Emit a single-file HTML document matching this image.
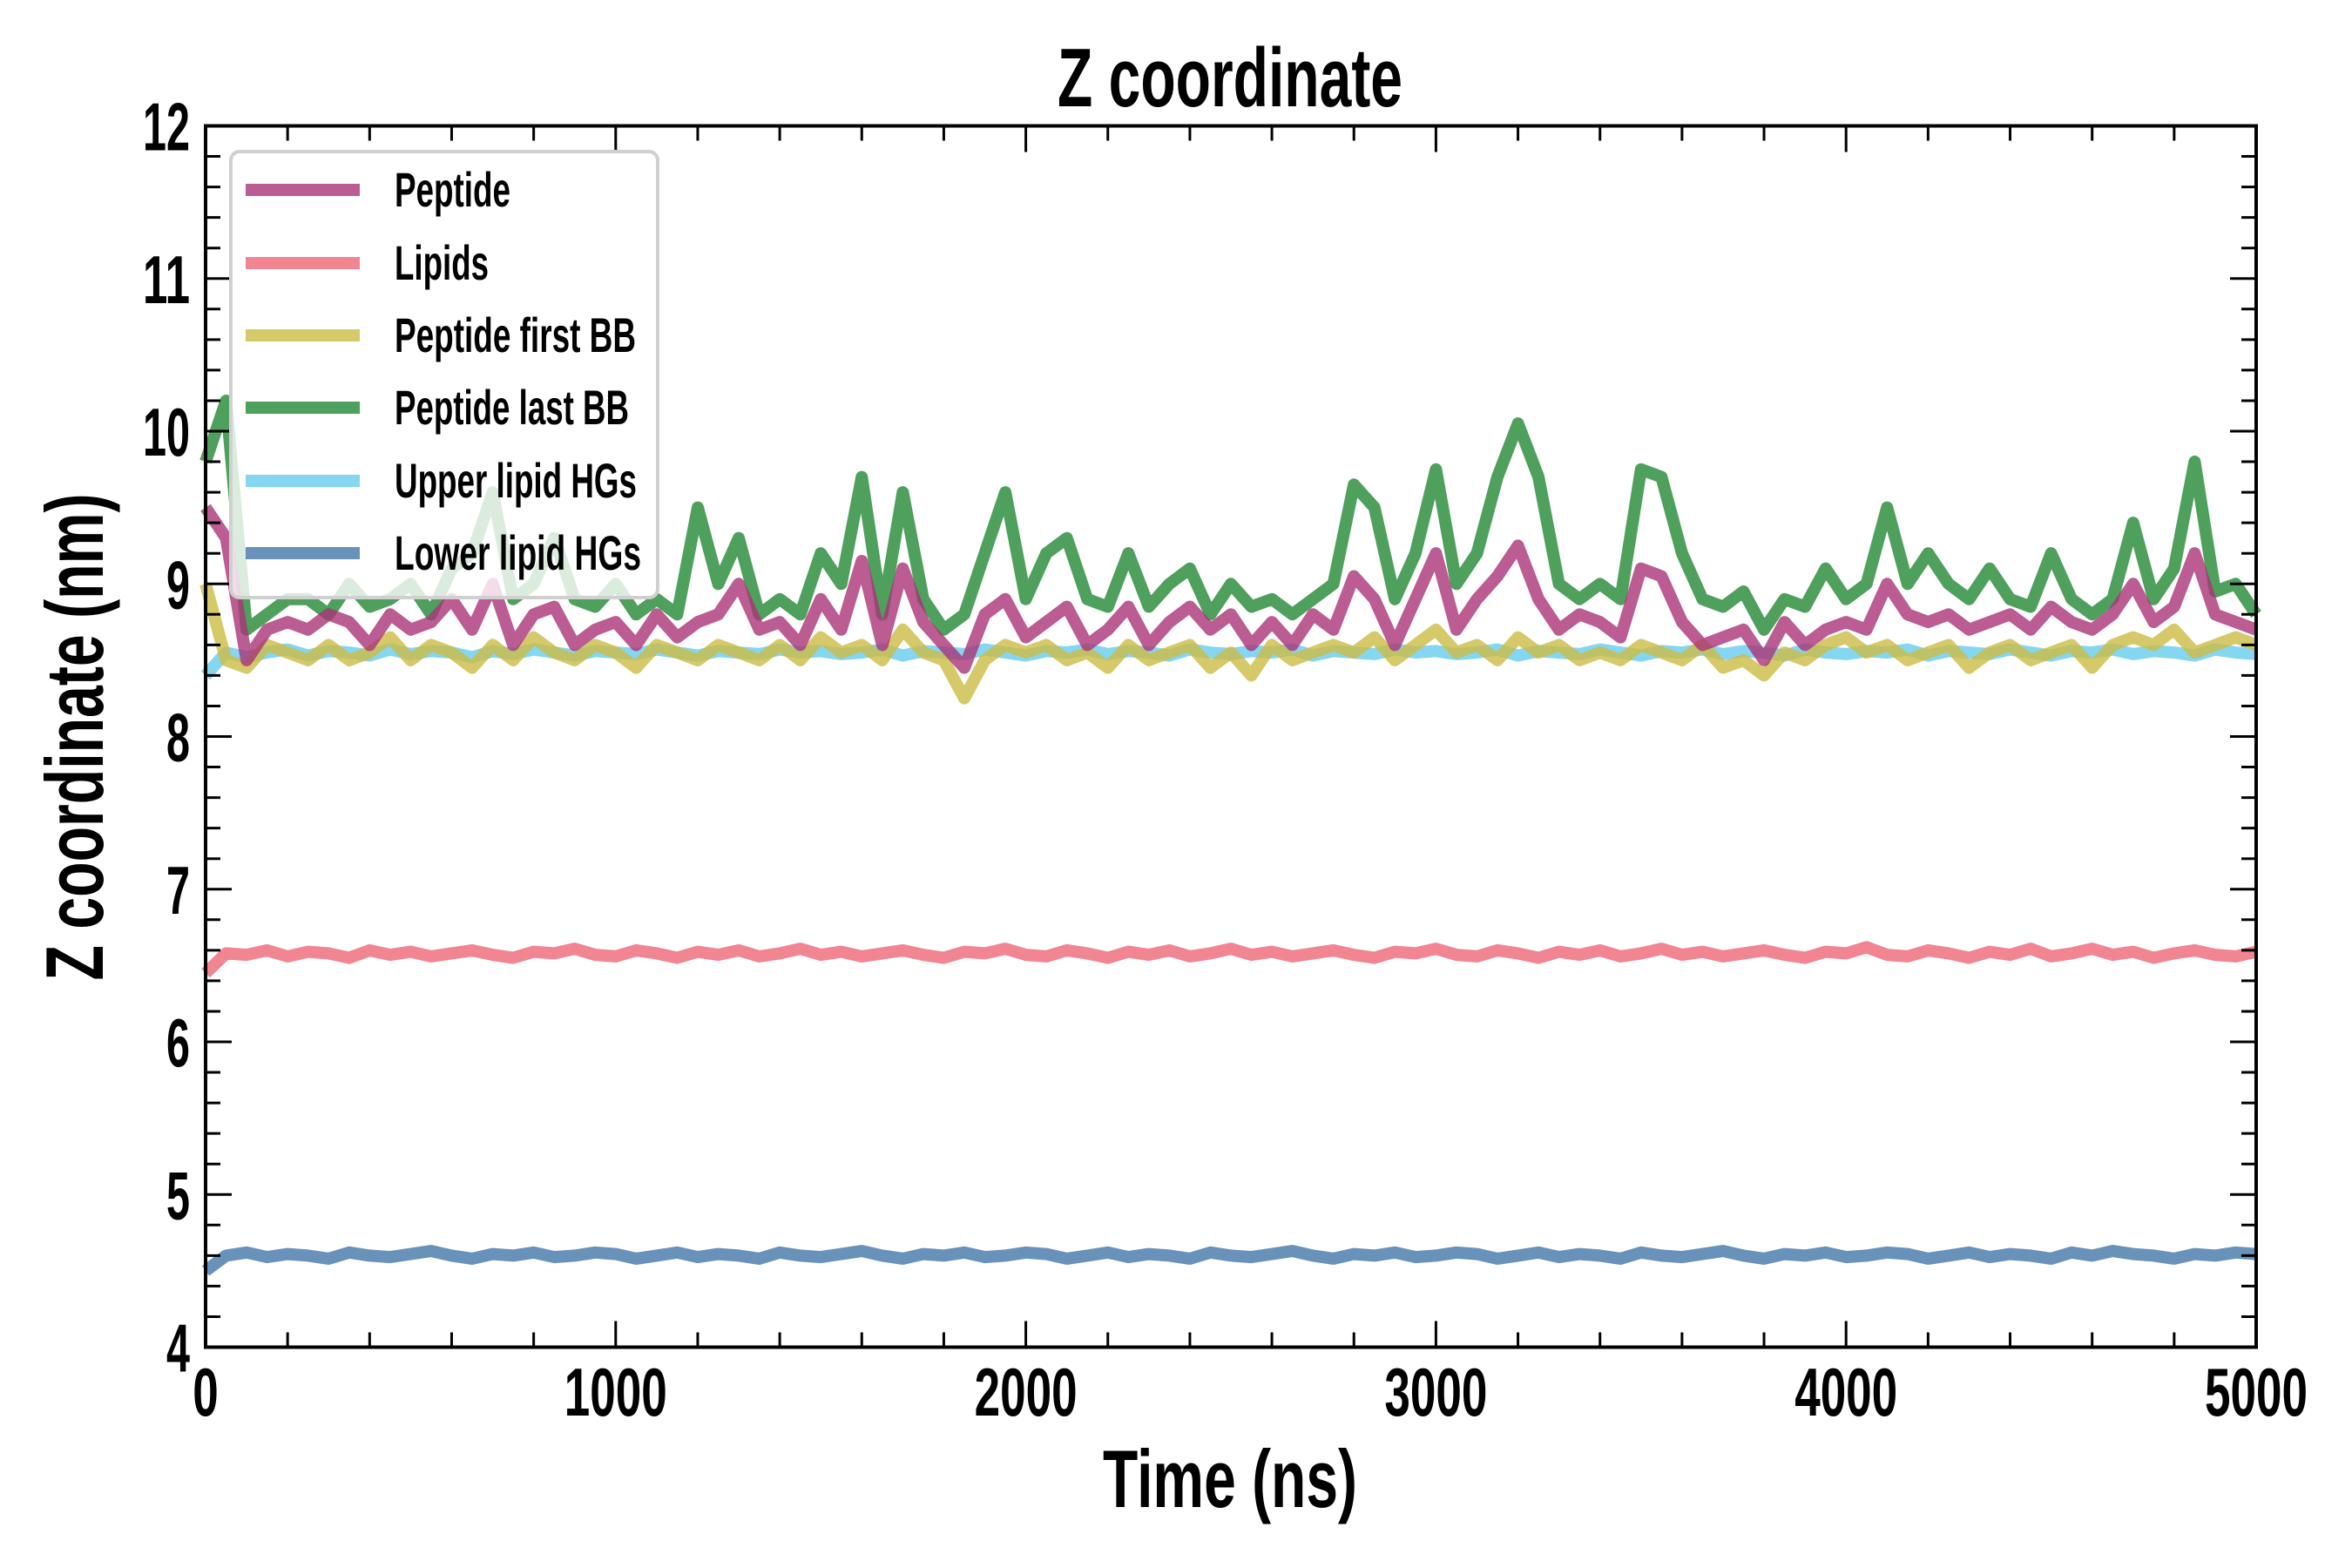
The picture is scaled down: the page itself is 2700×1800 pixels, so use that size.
<!DOCTYPE html>
<html><head><meta charset="utf-8"><style>
html,body{margin:0;padding:0;background:#fff;}
svg{display:block;}
text{font-family:"Liberation Sans",sans-serif;font-weight:bold;fill:#000;}
</style></head><body>
<svg id="chart" width="2700" height="1800" viewBox="0 0 2700 1800" xmlns="http://www.w3.org/2000/svg">
<rect x="0" y="0" width="2700" height="1800" fill="#fff"/>
<text x="1412" y="122" font-size="96" text-anchor="middle" textLength="396" lengthAdjust="spacingAndGlyphs">Z coordinate</text>
<text x="1412" y="1730" font-size="94" text-anchor="middle" textLength="292" lengthAdjust="spacingAndGlyphs">Time (ns)</text>
<text transform="translate(118,846) rotate(-90)" x="0" y="0" font-size="94" text-anchor="middle" textLength="559" lengthAdjust="spacingAndGlyphs">Z coordinate (nm)</text>
<g id="series"></g>
<g id="ticks"></g>
<rect x="236" y="144.5" width="2354" height="1402" fill="none" stroke="#000" stroke-width="4"/>
<g id="legend"></g>
</svg>
<script>
const seriesNames = ["Peptide","Lipids","Peptide first BB","Peptide last BB","Upper lipid HGs","Lower lipid HGs"];
const seriesColors = ["#AA3377","#EE6677","#CCBB44","#228833","#66CCEE","#4477AA"];
const xTicks = [0,1000,2000,3000,4000,5000];
const yTicks = [4,5,6,7,8,9,10,11,12];
const peptide = [9.5,9.3,8.5,8.7,8.75,8.7,8.8,8.75,8.6,8.8,8.7,8.75,8.9,8.7,9.0,8.6,8.8,8.85,8.6,8.7,8.75,8.6,8.8,8.65,8.75,8.8,9.0,8.7,8.75,8.6,8.9,8.7,9.15,8.6,9.1,8.75,8.6,8.45,8.8,8.9,8.65,8.75,8.85,8.6,8.7,8.85,8.6,8.75,8.85,8.7,8.8,8.6,8.75,8.6,8.8,8.7,9.05,8.9,8.6,8.9,9.2,8.7,8.9,9.05,9.25,8.9,8.7,8.8,8.75,8.65,9.1,9.05,8.75,8.6,8.65,8.7,8.5,8.75,8.6,8.7,8.75,8.7,9.0,8.8,8.75,8.8,8.7,8.75,8.8,8.7,8.85,8.75,8.7,8.8,9.0,8.75,8.85,9.2,8.8,8.75,8.7];
const lastBB = [9.8,10.2,8.7,8.8,8.9,8.9,8.8,9.0,8.85,8.9,9.0,8.8,9.1,9.2,9.6,8.9,9.0,9.3,8.9,8.85,9.0,8.8,8.9,8.8,9.5,9.0,9.3,8.8,8.9,8.8,9.2,9.0,9.7,8.8,9.6,8.9,8.7,8.8,9.2,9.6,8.9,9.2,9.3,8.9,8.85,9.2,8.85,9.0,9.1,8.8,9.0,8.85,8.9,8.8,8.9,9.0,9.65,9.5,8.9,9.2,9.75,9.0,9.2,9.7,10.05,9.7,9.0,8.9,9.0,8.9,9.75,9.7,9.2,8.9,8.85,8.95,8.7,8.9,8.85,9.1,8.9,9.0,9.5,9.0,9.2,9.0,8.9,9.1,8.9,8.85,9.2,8.9,8.8,8.9,9.4,8.9,9.1,9.8,8.95,9.0,8.8];
const firstBB = [9.0,8.5,8.45,8.6,8.55,8.5,8.6,8.5,8.55,8.65,8.5,8.6,8.55,8.45,8.6,8.5,8.65,8.55,8.5,8.6,8.55,8.45,8.6,8.55,8.5,8.6,8.55,8.5,8.6,8.5,8.65,8.55,8.6,8.5,8.7,8.55,8.5,8.25,8.5,8.6,8.55,8.6,8.5,8.55,8.45,8.6,8.5,8.55,8.6,8.45,8.55,8.4,8.6,8.5,8.55,8.6,8.55,8.65,8.5,8.6,8.7,8.55,8.6,8.5,8.65,8.55,8.6,8.5,8.55,8.5,8.6,8.55,8.5,8.6,8.45,8.5,8.4,8.55,8.5,8.6,8.65,8.55,8.6,8.5,8.55,8.6,8.45,8.55,8.6,8.5,8.55,8.6,8.45,8.6,8.65,8.6,8.7,8.55,8.6,8.65,8.6];
const upperHG = [8.4,8.55,8.52,8.55,8.57,8.53,8.56,8.55,8.53,8.57,8.54,8.56,8.55,8.52,8.56,8.54,8.57,8.55,8.53,8.56,8.55,8.54,8.57,8.55,8.53,8.56,8.55,8.54,8.57,8.55,8.56,8.54,8.55,8.57,8.53,8.56,8.55,8.54,8.57,8.55,8.53,8.56,8.55,8.57,8.54,8.56,8.55,8.53,8.57,8.55,8.54,8.56,8.55,8.57,8.53,8.56,8.55,8.54,8.57,8.55,8.56,8.54,8.55,8.57,8.53,8.56,8.55,8.54,8.57,8.55,8.53,8.56,8.55,8.57,8.54,8.56,8.55,8.53,8.57,8.55,8.54,8.56,8.55,8.57,8.53,8.56,8.55,8.54,8.57,8.55,8.53,8.56,8.55,8.57,8.54,8.56,8.55,8.53,8.57,8.55,8.54];
const lipids = [6.45,6.58,6.57,6.6,6.56,6.59,6.58,6.55,6.6,6.57,6.59,6.56,6.58,6.6,6.57,6.55,6.59,6.58,6.61,6.57,6.56,6.6,6.58,6.55,6.59,6.57,6.6,6.56,6.58,6.61,6.57,6.59,6.56,6.58,6.6,6.57,6.55,6.59,6.58,6.61,6.57,6.56,6.6,6.58,6.55,6.59,6.57,6.6,6.56,6.58,6.61,6.57,6.59,6.56,6.58,6.6,6.57,6.55,6.59,6.58,6.61,6.57,6.56,6.6,6.58,6.55,6.59,6.57,6.6,6.56,6.58,6.61,6.57,6.59,6.56,6.58,6.6,6.57,6.55,6.59,6.58,6.62,6.57,6.56,6.6,6.58,6.55,6.59,6.57,6.61,6.56,6.58,6.61,6.57,6.59,6.55,6.58,6.6,6.57,6.56,6.59];
const lowerHG = [4.5,4.6,4.62,4.59,4.61,4.6,4.58,4.62,4.6,4.59,4.61,4.63,4.6,4.58,4.61,4.6,4.62,4.59,4.6,4.62,4.61,4.58,4.6,4.62,4.59,4.61,4.6,4.58,4.62,4.6,4.59,4.61,4.63,4.6,4.58,4.61,4.6,4.62,4.59,4.6,4.62,4.61,4.58,4.6,4.62,4.59,4.61,4.6,4.58,4.62,4.6,4.59,4.61,4.63,4.6,4.58,4.61,4.6,4.62,4.59,4.6,4.62,4.61,4.58,4.6,4.62,4.59,4.61,4.6,4.58,4.62,4.6,4.59,4.61,4.63,4.6,4.58,4.61,4.6,4.62,4.59,4.6,4.62,4.61,4.58,4.6,4.62,4.59,4.61,4.6,4.58,4.62,4.6,4.63,4.61,4.6,4.58,4.61,4.6,4.62,4.61];

const X0=236, X1=2590, Y0=1546.5, Y1=144.5, TMAX=5000, YMIN=4, YMAX=12;
function xs(t){return X0+(t/TMAX)*(X1-X0);}
function ys(v){return Y0-(v-YMIN)/(YMAX-YMIN)*(Y0-Y1);}
const NS="http://www.w3.org/2000/svg";
const sg=document.getElementById('series');
const allData=[peptide,lipids,firstBB,lastBB,upperHG,lowerHG];
const keys=["peptide","lipids","peptide-first-bb","peptide-last-bb","upper-lipid-hgs","lower-lipid-hgs"];
const order=[5,1,4,2,3,0];
order.forEach(function(k){
  const d=allData[k];
  const n=d.length;
  let p="";
  for(let i=0;i<n;i++){p+=(i?"L":"M")+xs(i*TMAX/(n-1)).toFixed(1)+","+ys(d[i]).toFixed(1);}
  const path=document.createElementNS(NS,'path');
  path.setAttribute('d',p);
  path.setAttribute('fill','none');
  path.setAttribute('stroke',seriesColors[k]);
  path.setAttribute('stroke-opacity','0.8');
  path.setAttribute('stroke-width','14');
  path.setAttribute('stroke-linejoin','round');
  
  
  sg.appendChild(path);
});
const tg=document.getElementById('ticks');
function line(x1,y1,x2,y2,w,name){
  const l=document.createElementNS(NS,'line');
  l.setAttribute('x1',x1);l.setAttribute('y1',y1);l.setAttribute('x2',x2);l.setAttribute('y2',y2);
  l.setAttribute('stroke','#000');l.setAttribute('stroke-width',w);
  
  
  tg.appendChild(l);
}
function label(x,y,txt,anchor,len,name){
  const t=document.createElementNS(NS,'text');
  t.setAttribute('x',x);t.setAttribute('y',y);t.setAttribute('font-size','78');
  t.setAttribute('text-anchor',anchor);t.setAttribute('textLength',len);t.setAttribute('lengthAdjust','spacingAndGlyphs');
  t.textContent=txt;
  
  
  tg.appendChild(t);
}
for(let t=0;t<=TMAX;t+=200){
  const major=(t%1000===0), L=major?30:17, x=xs(t);
  line(x,Y0,x,Y0-L,3,'x-tick');
  line(x,Y1,x,Y1+L,3,'x-tick-top');
}
for(let i=0;i<=40;i++){
  const v=YMIN+i*0.2, major=(i%5===0), L=major?30:17, y=ys(v);
  line(X0,y,X0+L,y,3,'y-tick');
  line(X1,y,X1-L,y,3,'y-tick-right');
}
xTicks.forEach(function(t){
  const s=String(t);
  label(xs(t),1625,s,'middle',s.length*29.5,'x-tick-label');
});
yTicks.forEach(function(v){
  const s=String(v);
  label(218,ys(v)+28,s,'end',s.length*27,'y-tick-label');
});
const lg=document.getElementById('legend');
const fr=document.createElementNS(NS,'rect');
fr.setAttribute('x',265);fr.setAttribute('y',174);fr.setAttribute('width',490);fr.setAttribute('height',512);
fr.setAttribute('rx',10);fr.setAttribute('fill','#fff');fr.setAttribute('fill-opacity','0.8');
fr.setAttribute('stroke','#d0d0d0');fr.setAttribute('stroke-width','4');


lg.appendChild(fr);
const rows=[218,302,385,468,552,635];
const legW=[133,108,277,269,278,283];
seriesNames.forEach(function(nm,i){
  const l=document.createElementNS(NS,'line');
  l.setAttribute('x1',282);l.setAttribute('x2',413);l.setAttribute('y1',rows[i]);l.setAttribute('y2',rows[i]);
  l.setAttribute('stroke',seriesColors[i]);l.setAttribute('stroke-opacity','0.8');l.setAttribute('stroke-width','14');
  
  
  lg.appendChild(l);
  const t=document.createElementNS(NS,'text');
  t.setAttribute('x',453);t.setAttribute('y',rows[i]+19);t.setAttribute('font-size','56');
  t.setAttribute('textLength',legW[i]);t.setAttribute('lengthAdjust','spacingAndGlyphs');
  t.textContent=nm;
  
  
  lg.appendChild(t);
});
</script>
</body></html>
